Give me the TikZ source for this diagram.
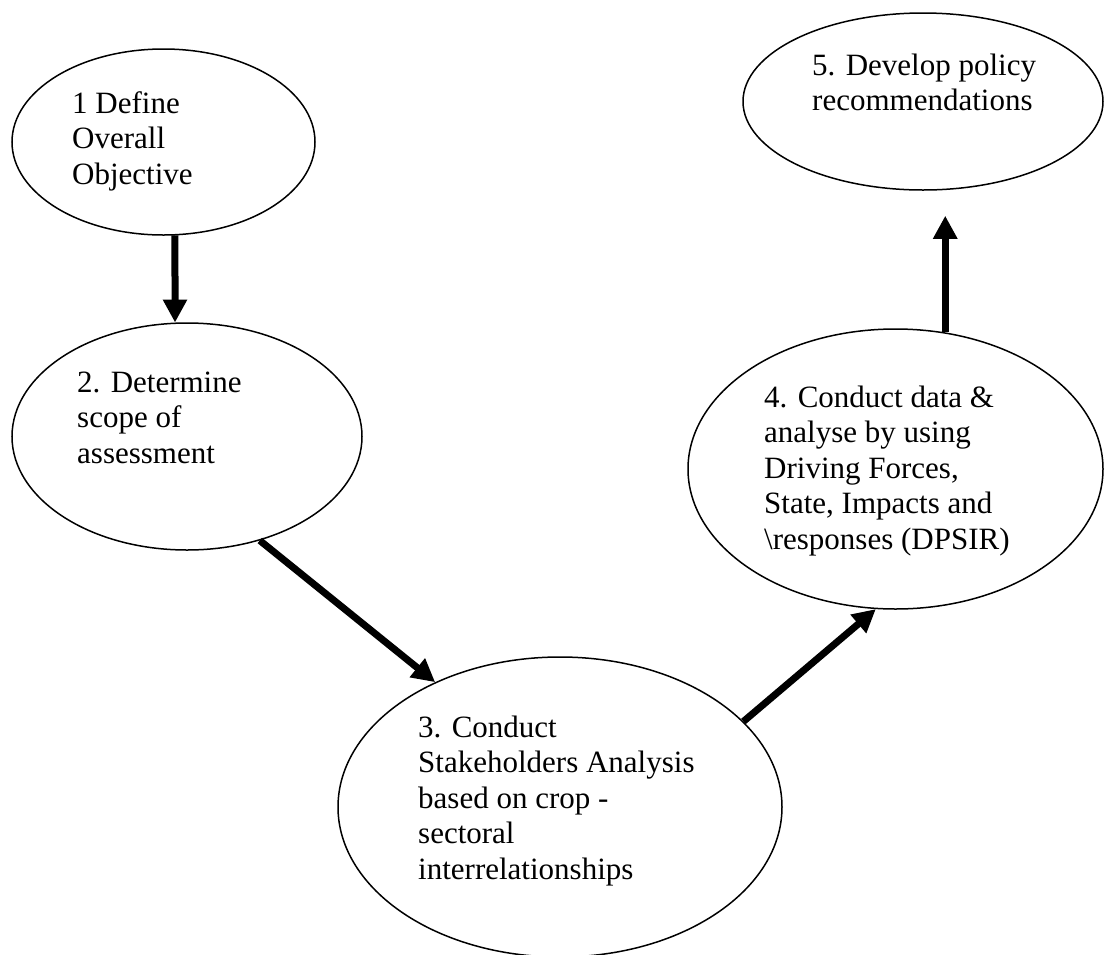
\documentclass[tikz,border=0pt]{standalone}
\usepackage{fontspec}
\setmainfont{Liberation Serif}
\usetikzlibrary{shapes.geometric,arrows.meta}
\tikzset{
  oval/.style={draw=black, line width=1.5pt, ellipse, inner sep=0pt},
  txt/.style={anchor=north west, inner sep=0pt, align=left, font=\fontsize{31pt}{35.5pt}\selectfont},
  flow/.style={line width=7pt, -{Triangle[width=23pt,length=23pt]}}
}
\begin{document}
\begin{tikzpicture}[x=1pt,y=-1pt]
\useasboundingbox[fill=white] (0,0) rectangle (1104,954);
\node[oval, minimum width=303pt, minimum height=186pt] (e1) at (163.5,142) {};
\node[oval, minimum width=350pt, minimum height=227pt] (e2) at (187,436.5) {};
\node[oval, minimum width=444pt, minimum height=300pt] (e3) at (560,807) {};
\node[oval, minimum width=415pt, minimum height=280pt] (e4) at (895.5,469) {};
\node[oval, minimum width=360pt, minimum height=177pt] (e5) at (923,101.5) {};
\node[txt] (t1) at (72,88.2) {\strut 1 Define\\Overall\\Objective};
\node[txt] (t2) at (77,367.2) {\strut 2. Determine\\scope of\\assessment};
\node[txt] (t3) at (418,712.2) {\strut 3. Conduct\\Stakeholders Analysis\\based on crop -\\sectoral\\interrelationships};
\node[txt] (t4) at (764,382.2) {\strut 4. Conduct data \&\\analyse by using\\Driving Forces,\\State, Impacts and\\\textbackslash responses (DPSIR)};
\node[txt] (t5) at (812,50.2) {\strut 5. Develop policy\\recommendations};
\draw[flow] (e1.-83) -- (e2.96);
\draw[flow] (e2.-55.6) -- (e3.135);
\draw[flow] (e3.25.1) -- (e4.-98.3);
\draw[flow, shorten >=25pt] (e4.70.2) -- (e4.70.2 |- e5.south);
\end{tikzpicture}
\end{document}
